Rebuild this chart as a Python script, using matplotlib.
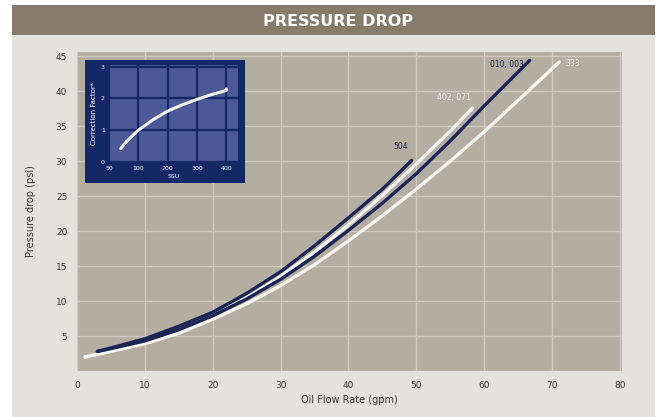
import numpy as np
import matplotlib
matplotlib.use('Agg')
from matplotlib import pyplot as plt
from matplotlib.patches import Rectangle

# main chart data (gpm, psi)
x_504 = [3, 5, 10, 15, 20, 25, 30, 35, 40, 45, 49.3]
y_504 = [2.8, 3.3, 4.6, 6.4, 8.4, 11.1, 14.2, 17.9, 21.9, 26.0, 30.1]

x_402 = [1.2, 5, 10, 15, 20, 25, 30, 35, 40, 45, 50, 55, 58.3]
y_402 = [2.0, 2.9, 4.1, 5.8, 7.9, 10.5, 13.5, 17.0, 20.9, 25.1, 29.6, 34.3, 37.6]

x_010 = [3, 5, 10, 15, 20, 25, 30, 35, 40, 45, 50, 55, 60, 66.7]
y_010 = [2.8, 3.2, 4.3, 5.9, 7.9, 10.3, 13.1, 16.4, 20.1, 24.0, 28.2, 32.9, 37.9, 44.4]

x_333 = [1.2, 5, 10, 15, 20, 25, 30, 35, 40, 45, 50, 55, 60, 65, 71.1]
y_333 = [2.0, 2.8, 3.9, 5.4, 7.4, 9.6, 12.2, 15.2, 18.6, 22.2, 26.0, 30.0, 34.2, 38.7, 44.2]

x_ticks = [0, 10, 20, 30, 40, 50, 60, 70, 80]
y_ticks = [5, 10, 15, 20, 25, 30, 35, 40, 45]

# inset: correction factor vs viscosity
inset_ticks = [50, 100, 200, 300, 400]
inset_ssu = [70, 80, 100, 150, 200, 250, 300, 350, 400, 410]
inset_cf = [0.42, 0.65, 1.0, 1.33, 1.6, 1.8, 1.97, 2.12, 2.25, 2.3]

navy = '#1b2452'
white = '#f6f5f2'
txt = '#3a3633'

fig = plt.figure(figsize=(6.65, 4.17), dpi=100)
fig.patch.set_facecolor('white')

# light panel and banner
fig.patches.append(Rectangle((12/665, 0), 643/665, 1 - 35/417, transform=fig.transFigure,
                             facecolor='#e5e1dd', edgecolor='none', zorder=-2))
fig.patches.append(Rectangle((12/665, 1 - 35/417), 643/665, 30/417, transform=fig.transFigure,
                             facecolor='#877b6b', edgecolor='none', zorder=-2))
fig.text(338/665, 1 - 21/417, 'PRESSURE DROP', color='white', fontsize=11.5, fontweight='bold',
         ha='center', va='center')

ax = fig.add_axes([77/665, 1 - 371/417, 545/665, 319/417], zorder=1)
ax.set_facecolor('#b4ada2')
ax.set_xlim(0, 80.3)
ax.set_ylim(0, 45.6)
ax.set_xticks(x_ticks)
ax.set_yticks(y_ticks)
ax.grid(True, color='#cfc9bf', linewidth=1)
ax.set_axisbelow(True)
for s in ax.spines.values():
    s.set_visible(False)
ax.tick_params(length=0, labelsize=6.5, labelcolor=txt, pad=7)
ax.set_xlabel('Oil Flow Rate (gpm)', fontsize=7, color=txt, labelpad=4)
ax.set_ylabel('Pressure drop (psi)', fontsize=7, color=txt, labelpad=14)

ax.plot(x_333, y_333, color=white, lw=2.4, solid_capstyle='round')
ax.plot(x_402, y_402, color=white, lw=2.4, solid_capstyle='round')
ax.plot(x_010, y_010, color=navy, lw=2.4, solid_capstyle='round')
ax.plot(x_504, y_504, color=navy, lw=2.4, solid_capstyle='round')

ax.text(x_504[-1] - 2.7, y_504[-1] + 1.4, '504', fontsize=5.5, color=navy, ha='left', va='bottom')
ax.text(x_402[-1] - 5.2, y_402[-1] + 0.8, '402, 071', fontsize=5.5, color=white, ha='left', va='bottom')
ax.text(x_010[-1] - 0.8, y_010[-1] - 0.6, '010, 003', fontsize=5.5, color=navy, ha='right', va='center')
ax.text(x_333[-1] + 0.8, y_333[-1] - 0.2, '333', fontsize=5.5, color=white, ha='left', va='center')

# inset box
fig.patches.append(Rectangle((85/665, 1 - 183/417), 160/665, 123/417, transform=fig.transFigure,
                             facecolor='#142766', edgecolor='none', zorder=2))
axi = fig.add_axes([109/665, 1 - 162/417, 129/665, 97/417], zorder=3)
axi.set_facecolor('#4c5898')
pos = np.arange(len(inset_ticks))
axi.plot(np.interp(inset_ssu, inset_ticks, pos), inset_cf, color=white, lw=2.2, solid_capstyle='round')
axi.set_xlim(0, 4.4)
axi.set_ylim(0, 3.05)
axi.set_xticks(pos)
axi.set_xticklabels([str(t) for t in inset_ticks])
axi.set_yticks([0, 1, 2, 3])
axi.grid(True, color='#142766', linewidth=1.6)
axi.set_axisbelow(True)
for s in axi.spines.values():
    s.set_visible(False)
axi.tick_params(length=0, labelsize=4.5, labelcolor='white', pad=3)
axi.set_xlabel('SSU', fontsize=4.5, color='white', labelpad=2)
axi.set_ylabel('Correction Factor*', fontsize=5, color='white', labelpad=3)

fig.savefig('out.png', dpi=100)
